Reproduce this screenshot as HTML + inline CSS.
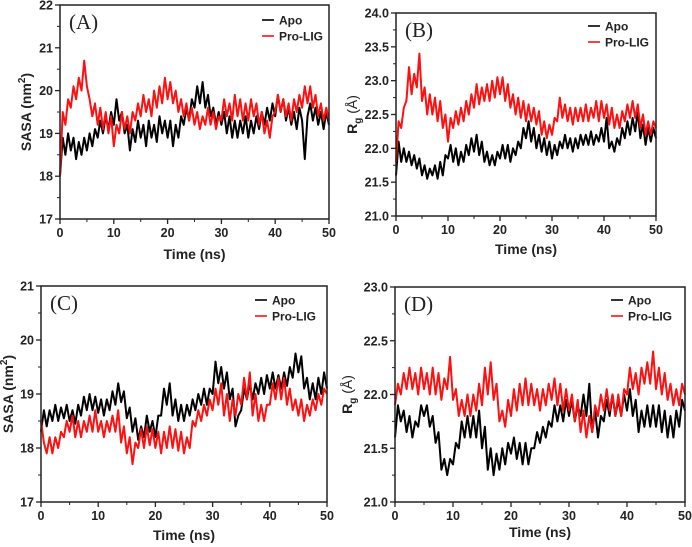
<!DOCTYPE html>
<html><head><meta charset="utf-8"><style>
html,body{margin:0;padding:0;background:#fff;}
svg{display:block;font-family:"Liberation Sans",sans-serif;}
</style></head><body>
<svg id="fig" width="692" height="547" viewBox="0 0 692 547" xmlns="http://www.w3.org/2000/svg"></svg>
<script>
const timeStart = 0, timeStep = 0.5;
const xTicks = [0,10,20,30,40,50];
const seriesNames = ["Apo","Pro-LIG"];
const aApo = [18.0,18.9,18.5,19.0,18.6,18.9,18.4,18.8,18.5,18.9,18.6,19.0,18.7,19.1,18.9,19.3,19.0,19.4,19.1,19.5,19.2,19.8,19.3,19.5,19.0,19.2,18.6,19.1,18.8,19.3,18.9,19.2,18.7,19.3,18.9,19.2,18.8,19.4,19.0,19.3,18.9,19.3,18.7,19.2,18.9,19.4,19.2,19.6,19.3,19.8,19.6,20.1,19.7,20.2,19.6,19.9,19.4,19.6,19.2,19.5,19.2,19.5,19.0,19.4,18.9,19.3,18.9,19.3,19.0,19.4,18.9,19.3,19.0,19.4,19.1,19.5,19.2,19.6,19.3,19.7,19.4,19.9,19.5,19.8,19.3,19.6,19.2,19.5,19.1,19.6,19.3,18.4,19.4,19.7,19.3,19.6,19.2,19.5,19.1,19.5,19.2];
const aLig = [18.0,19.5,19.2,19.8,19.6,20.1,19.8,20.3,20.0,20.7,20.1,19.8,19.4,19.7,19.2,19.6,19.1,19.5,19.0,19.4,18.7,19.2,19.0,19.5,19.1,19.4,19.0,19.5,19.3,19.7,19.4,19.9,19.5,19.8,19.4,20.0,19.6,20.1,19.7,20.3,19.8,20.2,19.7,20.0,19.5,19.8,19.4,19.7,19.3,19.6,19.2,19.5,19.1,19.4,19.2,19.6,19.2,19.5,19.1,19.4,19.3,19.8,19.4,19.7,19.3,19.9,19.4,19.8,19.3,19.7,19.3,19.8,19.4,19.7,19.2,19.5,19.0,19.3,18.9,19.4,19.5,19.9,19.5,19.8,19.4,19.7,19.3,19.8,19.5,19.9,19.6,20.1,19.7,20.1,19.6,19.9,19.4,19.7,19.3,19.6,19.3];
const bApo = [21.6,22.1,21.8,22.0,21.8,21.95,21.75,21.9,21.7,21.85,21.6,21.75,21.55,21.7,21.6,21.75,21.55,21.8,21.6,21.9,21.85,22.05,21.8,22.0,21.75,21.95,21.8,22.05,21.9,22.15,21.95,22.2,21.9,22.1,21.8,21.95,21.75,21.9,21.75,21.95,21.85,22.05,21.85,22.05,21.8,22.0,21.9,22.1,22.0,22.3,22.15,22.4,22.1,22.3,22.0,22.2,21.95,22.15,21.9,22.1,21.85,22.05,21.9,22.1,22.0,22.2,22.0,22.15,21.95,22.15,22.0,22.2,22.05,22.2,22.05,22.25,22.05,22.2,22.1,22.3,22.1,22.45,22.0,22.1,21.95,22.15,22.05,22.3,22.15,22.4,22.2,22.45,22.25,22.55,22.15,22.35,22.05,22.3,22.1,22.3,22.15];
const bLig = [21.8,22.4,22.3,22.6,22.7,23.2,22.8,23.1,22.9,23.4,22.7,22.9,22.5,22.8,22.5,22.75,22.4,22.7,22.3,22.5,22.1,22.45,22.3,22.55,22.35,22.6,22.4,22.7,22.5,22.8,22.6,22.95,22.65,22.9,22.7,22.95,22.7,23.0,22.75,23.05,22.8,23.05,22.7,22.95,22.6,22.8,22.5,22.75,22.45,22.7,22.4,22.65,22.4,22.6,22.35,22.55,22.2,22.4,22.15,22.35,22.2,22.45,22.4,22.75,22.45,22.65,22.4,22.6,22.35,22.6,22.4,22.6,22.4,22.65,22.4,22.6,22.45,22.7,22.4,22.7,22.45,22.65,22.35,22.6,22.3,22.5,22.3,22.55,22.4,22.65,22.45,22.7,22.45,22.65,22.3,22.5,22.2,22.4,22.2,22.4,22.3];
const cApo = [18.3,18.7,18.4,18.7,18.5,18.8,18.5,18.75,18.55,18.8,18.5,18.7,18.45,18.8,18.6,18.95,18.7,19.0,18.7,18.95,18.65,18.9,18.6,18.9,18.7,19.05,18.8,19.2,18.85,19.05,18.55,18.75,18.3,18.55,18.15,18.4,18.2,18.6,18.3,18.5,18.2,18.6,18.6,19.1,18.8,19.2,18.6,18.9,18.5,18.8,18.5,18.8,18.6,18.9,18.7,19.0,18.8,19.1,18.8,19.1,19.0,19.6,19.2,19.5,19.1,19.4,18.9,19.1,18.4,18.6,18.7,19.1,18.9,19.2,18.9,19.2,19.0,19.3,19.0,19.35,19.1,19.4,19.1,19.35,19.1,19.4,19.15,19.5,19.3,19.75,19.4,19.7,19.1,19.3,18.9,19.2,18.9,19.3,19.0,19.4,19.1];
const cLig = [18.5,18.1,17.9,18.2,17.9,18.2,18.0,18.3,18.2,18.5,18.3,18.6,18.2,18.5,18.2,18.5,18.3,18.6,18.3,18.7,18.3,18.5,18.2,18.5,18.3,18.6,18.3,18.7,18.1,18.4,17.9,18.2,17.7,18.1,18.0,18.35,18.0,18.4,18.05,18.35,18.0,18.3,17.9,18.3,18.0,18.4,18.0,18.35,17.95,18.3,17.9,18.2,18.0,18.5,18.4,18.7,18.5,18.8,18.6,18.9,18.7,19.1,18.8,19.2,18.6,19.0,18.5,18.9,18.6,19.0,18.8,19.3,18.9,19.4,18.6,19.0,18.5,18.8,18.5,18.8,18.8,19.2,18.9,19.3,18.9,19.3,18.8,19.1,18.7,18.9,18.6,18.9,18.5,18.8,18.6,18.9,18.7,19.0,18.8,19.1,19.0];
const dApo = [21.6,21.9,21.75,21.85,21.65,21.8,21.6,21.75,21.7,21.9,21.8,21.9,21.7,21.8,21.55,21.65,21.3,21.4,21.25,21.4,21.35,21.55,21.5,21.75,21.6,21.8,21.6,21.8,21.6,21.85,21.5,21.7,21.3,21.5,21.25,21.45,21.3,21.5,21.35,21.55,21.45,21.6,21.4,21.55,21.35,21.55,21.35,21.5,21.5,21.65,21.55,21.7,21.6,21.75,21.7,21.9,21.75,21.9,21.75,21.95,21.8,21.95,21.75,21.9,21.8,22.0,21.8,22.1,21.65,21.85,21.6,21.8,21.75,21.95,21.8,22.0,21.8,21.95,21.8,22.0,21.85,22.05,21.8,21.95,21.65,21.85,21.7,21.9,21.7,21.9,21.7,21.9,21.65,21.85,21.6,21.8,21.6,21.85,21.7,21.95,21.85];
const dLig = [21.9,22.1,22.0,22.2,22.05,22.25,22.05,22.2,22.0,22.25,22.05,22.2,22.0,22.25,22.0,22.2,21.95,22.15,22.05,22.35,21.95,22.05,21.8,21.95,21.8,22.0,21.8,22.0,21.85,22.1,21.9,22.25,22.0,22.3,21.95,22.1,21.75,21.85,21.7,21.95,21.8,22.05,21.85,22.1,21.9,22.15,21.9,22.1,21.9,22.05,21.85,22.05,21.9,22.1,21.95,22.15,21.9,22.1,21.85,22.05,21.85,22.0,21.75,21.95,21.65,21.85,21.6,21.8,21.65,21.9,21.8,22.0,21.85,22.05,21.85,22.0,21.8,22.0,21.8,22.05,22.0,22.25,22.05,22.2,22.0,22.25,22.1,22.3,22.1,22.4,22.05,22.25,22.0,22.2,21.95,22.1,21.9,22.05,21.9,22.1,22.0];
const aTicks = ["17","18","19","20","21","22"];
const bTicks = ["21.0","21.5","22.0","22.5","23.0","23.5","24.0"];
const cTicks = ["17","18","19","20","21"];
const dTicks = ["21.0","21.5","22.0","22.5","23.0"];

const NS="http://www.w3.org/2000/svg";
const svg=document.getElementById('fig');
function mk(tag,attrs,parent,text){const e=document.createElementNS(NS,tag);for(const k in attrs)e.setAttribute(k,attrs[k]);if(text!==undefined)e.textContent=text;(parent||svg).appendChild(e);return e;}

const panels=[
 {id:'a',label:'(A)',L:60,R:329,T:5,B:219,ymin:17,ymax:22,ticks:aTicks,apo:aApo,lig:aLig,ytitle:'sasa',ytx:31,xty:259,legX:262,legY:20},
 {id:'b',label:'(B)',L:396,R:656,T:13,B:216,ymin:21,ymax:24,ticks:bTicks,apo:bApo,lig:bLig,ytitle:'rg',ytx:357,xty:254,legX:588,legY:26},
 {id:'c',label:'(C)',L:41,R:327,T:286,B:502,ymin:17,ymax:21,ticks:cTicks,apo:cApo,lig:cLig,ytitle:'sasa',ytx:13,xty:540,legX:255,legY:300},
 {id:'d',label:'(D)',L:395,R:685,T:287,B:502,ymin:21,ymax:23,ticks:dTicks,apo:dApo,lig:dLig,ytitle:'rg',ytx:352,xty:537,legX:611,legY:300}
];

panels.forEach(p=>{
 const g=mk('g',{});
 
 
 const xs=t=>p.L+(t-0)/(50-0)*(p.R-p.L);
 const ys=v=>p.B-(v-p.ymin)/(p.ymax-p.ymin)*(p.B-p.T);
 const order=[[p.apo,'#000000','apo'],[p.lig,'#ff1010','pro-lig']];
 order.forEach(([arr,col,nm])=>{
  let d='';
  arr.forEach((v,i)=>{const t=timeStart+i*timeStep;d+=(i?'L':'M')+xs(t).toFixed(1)+' '+ys(v).toFixed(1);});
  const path=mk('path',{d:d,fill:'none',stroke:col,'stroke-width':2.0,'stroke-linejoin':'round'},g);
  
  
 });
 const fr=mk('rect',{x:p.L,y:p.T,width:p.R-p.L,height:p.B-p.T,fill:'none',stroke:'#222','stroke-width':1.5},g);
 
 
 xTicks.forEach(t=>{
  mk('line',{x1:xs(t),x2:xs(t),y1:p.B,y2:p.B+5,stroke:'#222','stroke-width':1.3},g);
  const lb=mk('text',{x:xs(t),y:p.B+18,'text-anchor':'middle','font-size':12.5,'font-weight':'bold',fill:'#222'},g,String(t));
  
  
 });
 for(let t=5;t<50;t+=10) mk('line',{x1:xs(t),x2:xs(t),y1:p.B,y2:p.B+3,stroke:'#222','stroke-width':1},g);
 const n=p.ticks.length;
 p.ticks.forEach((s,i)=>{
  const v=p.ymin+i*(p.ymax-p.ymin)/(n-1);
  mk('line',{x1:p.L-5,x2:p.L,y1:ys(v),y2:ys(v),stroke:'#222','stroke-width':1.3},g);
  const lb=mk('text',{x:p.L-7,y:ys(v)+4.5,'text-anchor':'end','font-size':12.5,'font-weight':'bold',fill:'#222'},g,s);
  
  
  if(i<n-1){const vm=v+(p.ymax-p.ymin)/(n-1)/2;mk('line',{x1:p.L-3,x2:p.L,y1:ys(vm),y2:ys(vm),stroke:'#222','stroke-width':1},g);}
 });
 const xt=mk('text',{x:(p.L+p.R)/2,y:p.xty,'text-anchor':'middle','font-size':14,'font-weight':'bold',fill:'#222'},g,'Time (ns)');
 
 
 const cy=(p.T+p.B)/2;
 const yt=mk('text',{x:p.ytx,y:cy,transform:'rotate(-90 '+p.ytx+' '+cy+')','text-anchor':'middle','font-size':14,'font-weight':'bold',fill:'#222'},g);
 
 
 if(p.ytitle==='sasa'){
  yt.appendChild(document.createTextNode('SASA (nm'));
  mk('tspan',{dy:-6,'font-size':10},yt,'2');
  mk('tspan',{dy:6},yt,')');
 } else {
  yt.appendChild(document.createTextNode('R'));
  mk('tspan',{dy:4,'font-size':10},yt,'g');
  mk('tspan',{dy:-4,'font-weight':'normal'},yt,' (Å)');
 }
 const pl=mk('text',{x:p.L+9,y:p.T+24,'font-family':'"Liberation Serif",serif','font-size':21,fill:'#222'},g,p.label);
 
 
 const lg=mk('g',{},g);
 
 
 [['#000','Apo'],['#ff1010','Pro-LIG']].forEach(([c,nm],i)=>{
  const y=p.legY+i*16;
  mk('line',{x1:p.legX,x2:p.legX+12,y1:y,y2:y,stroke:c,'stroke-width':1.6},lg);
  const tx=mk('text',{x:p.legX+17,y:y+4.5,'font-size':12,'font-weight':'bold',fill:'#222'},lg,seriesNames[i]);
  
  
 });
});
</script>
</body></html>
